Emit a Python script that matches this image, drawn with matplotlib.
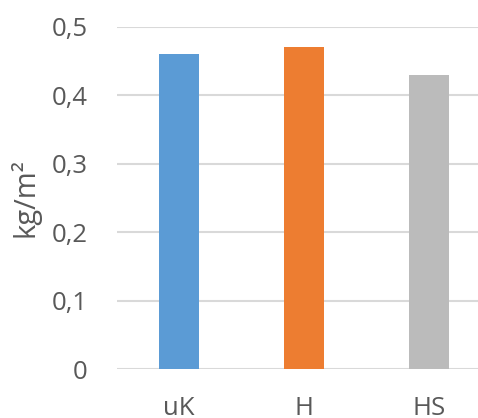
import matplotlib.pyplot as plt
from matplotlib.ticker import FuncFormatter

categories = ['uK', 'H', 'HS']
values = [0.46, 0.47, 0.43]
colors = ['#5B9BD5', '#ED7D31', '#BBBBBB']
yticks = [0, 0.1, 0.2, 0.3, 0.4, 0.5]

plt.rcParams['font.family'] = ['Open Sans', 'DejaVu Sans']
txt = '#595959'

fig = plt.figure(figsize=(4.78, 4.18), dpi=100)
ax = fig.add_axes([0.244, 0.1165, 0.7845, 0.8197])

x = range(len(categories))
ax.bar(x, values, width=0.32, color=colors, zorder=3)

ax.set_xlim(-0.5, 2.5)
ax.set_ylim(0, 0.5)
ax.set_yticks(yticks)
ax.yaxis.set_major_formatter(FuncFormatter(lambda v, p: ('%g' % round(v, 1)).replace('.', ',')))
ax.set_xticks(list(x))
ax.set_xticklabels(categories)
ax.grid(axis='y', color='#D9D9D9', linewidth=1.5, zorder=0)
ax.set_axisbelow(True)

for s in ax.spines.values():
    s.set_visible(False)
ax.tick_params(axis='both', length=0, labelsize=18.5, labelcolor=txt)
ax.tick_params(axis='y', pad=21)
ax.tick_params(axis='x', pad=19)
ax.set_ylabel('kg/m²', fontsize=21, color=txt, labelpad=8)

fig.savefig('out.png', dpi=100)
